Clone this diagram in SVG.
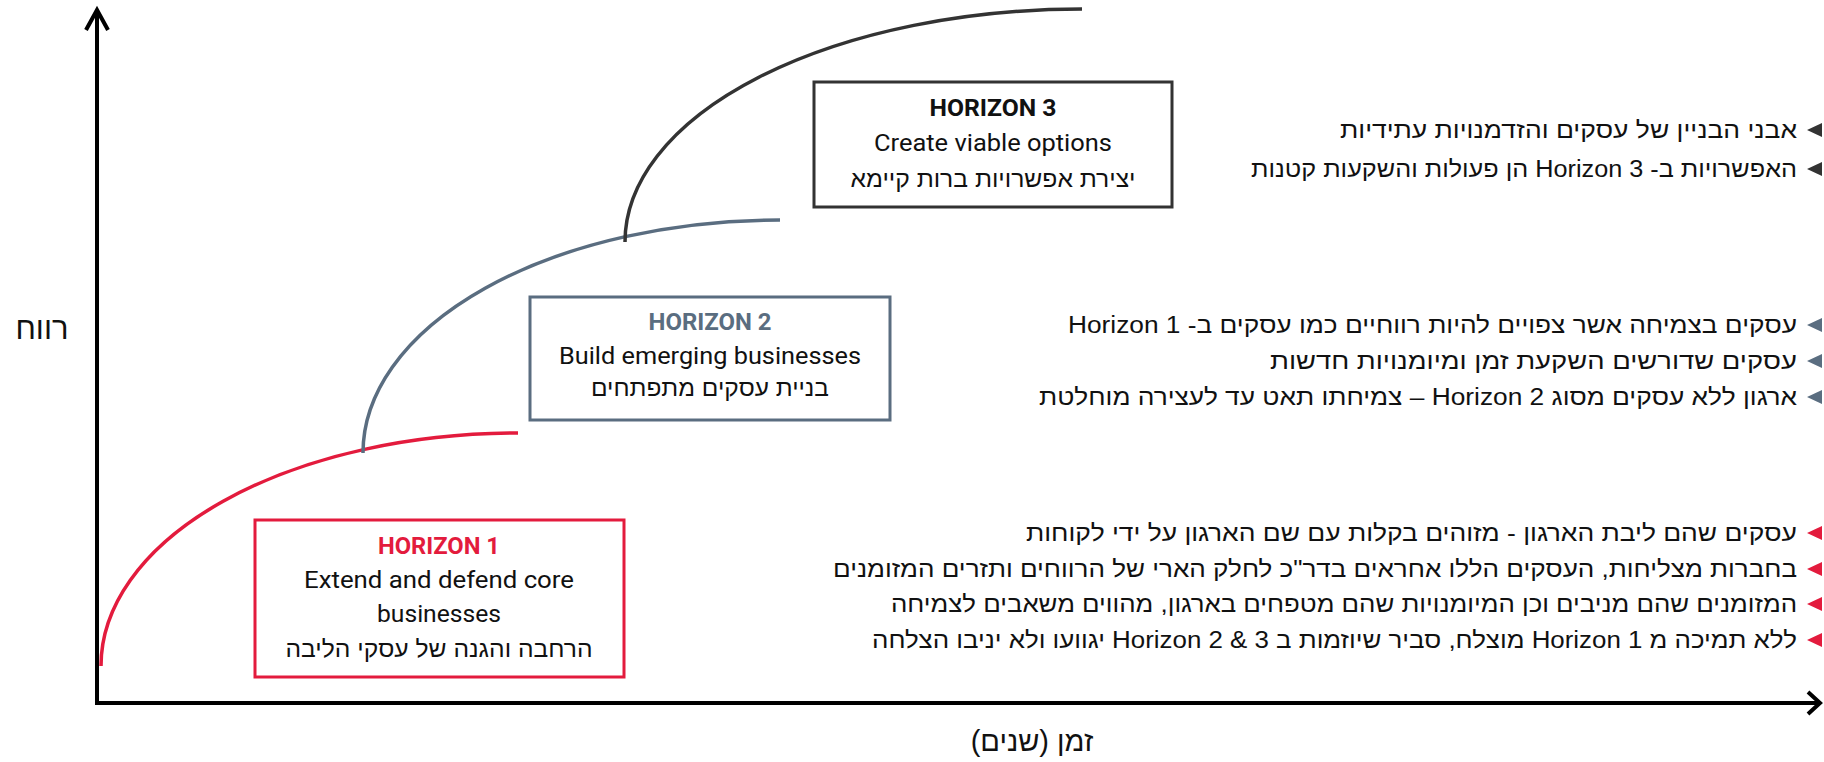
<svg xmlns="http://www.w3.org/2000/svg" width="1824" height="762" viewBox="0 0 1824 762">
<style>
.en{font-family:Roboto,"Liberation Sans",sans-serif;font-size:23px;fill:#111}
.ttl{font-family:Roboto,"Liberation Sans",sans-serif;font-size:23px;font-weight:700}
.he{font-family:"Liberation Sans","DejaVu Sans",sans-serif;font-size:24px;fill:#111;direction:rtl;unicode-bidi:embed}
.blt{font-family:"Liberation Sans","DejaVu Sans",sans-serif;font-size:23.5px;fill:#111;direction:rtl;unicode-bidi:embed;text-anchor:start}
.ax{fill:none;stroke:#000;stroke-width:4}
.box{fill:#fff;stroke-width:3}
.crv{fill:none;stroke-width:3.5}
.red{stroke:#e31b3d}
.sl{stroke:#5a6d80}
.dk{stroke:#333}
</style>
<g id="axes">
<line class="ax" x1="97" y1="703" x2="97" y2="11"/>
<polyline class="ax" points="86,30 97,10 108,30"/>
<line class="ax" x1="95" y1="703" x2="1819" y2="703"/>
<polyline class="ax" points="1808,692 1820,703 1808,714"/>
<text class="he" x="42" y="339" text-anchor="middle" style="font-size:31px">רווח</text>
<text class="he" x="1032" y="751" text-anchor="middle" style="font-size:29px">זמן (שנים)</text>
</g>
<g id="connectors">
<path class="crv red" d="M101,666 A417,233 0 0 1 518,433"/>
<path class="crv sl" d="M363,453 A417,233 0 0 1 780,220"/>
<path class="crv dk" d="M625,242 A457,233 0 0 1 1082,9"/>
</g>
<g id="h3">
<rect class="box dk" x="814" y="82" width="358" height="125"/>
<text class="ttl" x="993" y="116" text-anchor="middle" fill="#111" textLength="127" lengthAdjust="spacingAndGlyphs">HORIZON 3</text>
<text class="en" x="993" y="151" text-anchor="middle" textLength="238" lengthAdjust="spacingAndGlyphs">Create viable options</text>
<text class="he" x="993" y="187" text-anchor="middle" textLength="285" lengthAdjust="spacingAndGlyphs">יצירת אפשרויות ברות קיימא</text>
</g>
<g id="h2">
<rect class="box sl" x="530" y="297" width="360" height="123"/>
<text class="ttl" x="710" y="330" text-anchor="middle" fill="#5a6d80" textLength="123" lengthAdjust="spacingAndGlyphs">HORIZON 2</text>
<text class="en" x="710" y="364" text-anchor="middle" textLength="302" lengthAdjust="spacingAndGlyphs">Build emerging businesses</text>
<text class="he" x="710" y="396" text-anchor="middle" textLength="238" lengthAdjust="spacingAndGlyphs">בניית עסקים מתפתחים</text>
</g>
<g id="h1">
<rect class="box red" x="255" y="520" width="369" height="157"/>
<text class="ttl" x="439" y="554" text-anchor="middle" fill="#e31b3d" textLength="122" lengthAdjust="spacingAndGlyphs">HORIZON 1</text>
<text class="en" x="439" y="588" text-anchor="middle" textLength="270" lengthAdjust="spacingAndGlyphs">Extend and defend core</text>
<text class="en" x="439" y="622" text-anchor="middle" textLength="124" lengthAdjust="spacingAndGlyphs">businesses</text>
<text class="he" x="439" y="657" text-anchor="middle" textLength="307" lengthAdjust="spacingAndGlyphs">הרחבה והגנה של עסקי הליבה</text>
</g>
<g id="bullets-h3" fill="#333">
<polygon points="1807,130 1822,123 1822,137"/>
<polygon points="1807,169 1822,162 1822,176"/>
<text class="blt" x="1797" y="138" textLength="457" lengthAdjust="spacingAndGlyphs">אבני הבניין של עסקים והזדמנויות עתידיות</text>
<text class="blt" x="1797" y="177" textLength="546" lengthAdjust="spacingAndGlyphs">האפשרויות ב- Horizon 3 הן פעולות והשקעות קטנות</text>
</g>
<g id="bullets-h2" fill="#5a6d80">
<polygon points="1807,325 1822,318 1822,332"/>
<polygon points="1807,361 1822,354 1822,368"/>
<polygon points="1807,397 1822,390 1822,404"/>
<text class="blt" x="1797" y="333" textLength="729" lengthAdjust="spacingAndGlyphs">עסקים בצמיחה אשר צפויים להיות רווחיים כמו עסקים ב- Horizon 1</text>
<text class="blt" x="1797" y="369" textLength="527" lengthAdjust="spacingAndGlyphs">עסקים שדורשים השקעת זמן ומיומנויות חדשות</text>
<text class="blt" x="1797" y="405" textLength="758" lengthAdjust="spacingAndGlyphs">ארגון ללא עסקים מסוג Horizon 2 – צמיחתו תאט עד לעצירה מוחלטת</text>
</g>
<g id="bullets-h1" fill="#e31b3d">
<polygon points="1807,533 1822,526 1822,540"/>
<polygon points="1807,569 1822,562 1822,576"/>
<polygon points="1807,604 1822,597 1822,611"/>
<polygon points="1807,640 1822,633 1822,647"/>
<text class="blt" x="1797" y="541" textLength="771" lengthAdjust="spacingAndGlyphs">עסקים שהם ליבת הארגון - מזוהים בקלות עם שם הארגון על ידי לקוחות</text>
<text class="blt" x="1797" y="577" textLength="964" lengthAdjust="spacingAndGlyphs">בחברות מצליחות, העסקים הללו אחראים בדר"כ לחלק הארי של הרווחים ותזרים המזומנים</text>
<text class="blt" x="1797" y="612" textLength="906" lengthAdjust="spacingAndGlyphs">המזומנים שהם מניבים וכן המיומנויות שהם מטפחים בארגון, מהווים משאבים לצמיחה</text>
<text class="blt" x="1797" y="648" textLength="925" lengthAdjust="spacingAndGlyphs">ללא תמיכה מ Horizon 1 מוצלח, סביר שיוזמות ב Horizon 2 &amp; 3 יגוועו ולא יניבו הצלחה</text>
</g>
</svg>
